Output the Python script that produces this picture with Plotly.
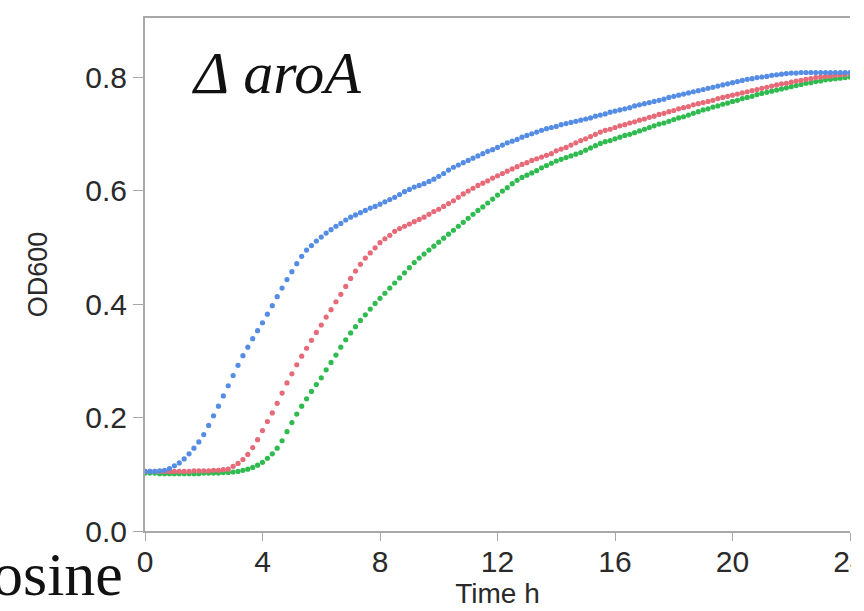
import plotly.graph_objects as go

# Time axis: readings every 10 minutes from 0 h to 24 h (145 samples)
time_h = [i / 6 for i in range(145)]

# OD600 readings, one row per hour, 6 readings/hour
od_blue = [
    0.105, 0.105, 0.105, 0.106, 0.107, 0.110,
    0.115, 0.120, 0.127, 0.136, 0.146, 0.157,
    0.170, 0.186, 0.203, 0.220, 0.238, 0.256,
    0.274, 0.292, 0.309, 0.324, 0.339, 0.353,
    0.367, 0.382, 0.397, 0.413, 0.428, 0.443,
    0.457, 0.471, 0.484, 0.495, 0.503, 0.511,
    0.518, 0.525, 0.531, 0.537, 0.542, 0.548,
    0.553, 0.557, 0.561, 0.565, 0.569, 0.572,
    0.576, 0.580, 0.584, 0.588, 0.593, 0.598,
    0.602, 0.606, 0.609, 0.612, 0.616, 0.620,
    0.625, 0.630, 0.636, 0.641, 0.645, 0.649,
    0.653, 0.657, 0.661, 0.665, 0.669, 0.672,
    0.676, 0.680, 0.684, 0.687, 0.690, 0.694,
    0.697, 0.700, 0.703, 0.706, 0.709, 0.711,
    0.713, 0.716, 0.718, 0.720, 0.722, 0.724,
    0.726, 0.728, 0.731, 0.733, 0.735, 0.738,
    0.740, 0.742, 0.744, 0.746, 0.749, 0.751,
    0.753, 0.755, 0.757, 0.759, 0.761, 0.764,
    0.766, 0.768, 0.770, 0.772, 0.774, 0.776,
    0.778, 0.780, 0.782, 0.784, 0.786, 0.788,
    0.790, 0.792, 0.794, 0.796, 0.797, 0.799,
    0.800, 0.801, 0.803, 0.804, 0.805, 0.806,
    0.807, 0.807, 0.808, 0.808, 0.808, 0.808,
    0.808, 0.808, 0.808, 0.808, 0.808, 0.808,
    0.808,
]

od_red = [
    0.105, 0.105, 0.105, 0.105, 0.105, 0.105,
    0.105, 0.105, 0.105, 0.105, 0.106, 0.106,
    0.106, 0.106, 0.107, 0.107, 0.108, 0.109,
    0.114, 0.119, 0.126, 0.135, 0.147, 0.161,
    0.177, 0.193, 0.208, 0.225, 0.243, 0.261,
    0.277, 0.293, 0.308, 0.322, 0.336, 0.350,
    0.363, 0.377, 0.390, 0.404, 0.417, 0.431,
    0.445, 0.458, 0.470, 0.481, 0.490, 0.499,
    0.508, 0.515, 0.521, 0.528, 0.533, 0.537,
    0.541, 0.545, 0.549, 0.553, 0.558, 0.563,
    0.567, 0.572, 0.577, 0.582, 0.588, 0.594,
    0.599, 0.604, 0.609, 0.613, 0.617, 0.622,
    0.626, 0.630, 0.634, 0.638, 0.642, 0.646,
    0.649, 0.653, 0.656, 0.659, 0.662, 0.665,
    0.670, 0.673, 0.676, 0.680, 0.684, 0.688,
    0.691, 0.695, 0.699, 0.703, 0.706, 0.708,
    0.711, 0.714, 0.716, 0.719, 0.721, 0.724,
    0.726, 0.729, 0.731, 0.734, 0.736, 0.739,
    0.741, 0.744, 0.746, 0.748, 0.751, 0.753,
    0.755, 0.757, 0.759, 0.762, 0.764, 0.766,
    0.768, 0.770, 0.772, 0.774, 0.776, 0.778,
    0.780, 0.782, 0.784, 0.786, 0.788, 0.789,
    0.791, 0.793, 0.794, 0.796, 0.797, 0.799,
    0.800, 0.801, 0.802, 0.803, 0.804, 0.805,
    0.806,
]

od_green = [
    0.102, 0.102, 0.102, 0.101, 0.101, 0.101,
    0.101, 0.101, 0.101, 0.101, 0.101, 0.101,
    0.102, 0.102, 0.102, 0.102, 0.103, 0.103,
    0.104, 0.105, 0.107, 0.109, 0.112, 0.116,
    0.121, 0.128, 0.136, 0.146, 0.159, 0.175,
    0.191, 0.206, 0.220, 0.233, 0.246, 0.258,
    0.270, 0.284, 0.297, 0.310, 0.324, 0.337,
    0.349, 0.360, 0.371, 0.381, 0.391, 0.401,
    0.410, 0.419, 0.428, 0.437, 0.446, 0.455,
    0.464, 0.473, 0.481, 0.488, 0.495, 0.502,
    0.509, 0.516, 0.523, 0.530, 0.537, 0.544,
    0.551, 0.558, 0.565, 0.571, 0.578, 0.585,
    0.592, 0.599, 0.605, 0.612, 0.618, 0.623,
    0.627, 0.631, 0.635, 0.640, 0.644, 0.648,
    0.652, 0.655, 0.658, 0.661, 0.664, 0.667,
    0.671, 0.675, 0.679, 0.683, 0.686, 0.688,
    0.691, 0.694, 0.697, 0.699, 0.702, 0.705,
    0.708, 0.711, 0.714, 0.717, 0.719, 0.722,
    0.725, 0.728, 0.730, 0.733, 0.736, 0.739,
    0.742, 0.744, 0.747, 0.749, 0.752, 0.754,
    0.757, 0.759, 0.762, 0.764, 0.766, 0.769,
    0.771, 0.773, 0.775, 0.777, 0.779, 0.781,
    0.783, 0.785, 0.787, 0.789, 0.790, 0.792,
    0.793, 0.795, 0.796, 0.797, 0.798, 0.799,
    0.800,
]

x_ticks = [0, 4, 8, 12, 16, 20, 24]
y_ticks = [0.0, 0.2, 0.4, 0.6, 0.8]

series = [
    ("green", od_green, "#30bb50"),
    ("red", od_red, "#e66a78"),
    ("blue", od_blue, "#558de4"),
]

fig = go.Figure()
for name, vals, col in series:
    fig.add_trace(go.Scatter(
        x=time_h, y=vals, mode="markers", name=name,
        marker=dict(size=5.2, color=col, line=dict(width=0)),
        showlegend=False,
    ))

W, H = 864, 611
L, R, T, B = 145, 14, 18, 80
pw, ph = W - L - R, H - T - B


def px(xp):
    return (xp - L) / pw


def py(yp):
    return (H - B - yp) / ph


FONT = "Liberation Sans, Arial, sans-serif"
tick_font = dict(family=FONT, size=30, color="#2a2a2a")

fig.update_layout(
    width=W, height=H,
    margin=dict(l=L, r=R, t=T, b=B, pad=0),
    paper_bgcolor="white", plot_bgcolor="white",
    xaxis=dict(
        range=[0, 24], tickvals=x_ticks, ticktext=[str(v) for v in x_ticks],
        automargin=False, ticklabeloverflow="allow",
        ticklabelstandoff=-5,
        showgrid=False, zeroline=False,
        showline=True, linecolor="#a8a8a8", linewidth=2, mirror=True,
        ticks="outside", ticklen=8, tickcolor="#a8a8a8", tickwidth=1,
        tickfont=tick_font,
        title=dict(text="Time h", font=dict(family=FONT, size=28, color="#2a2a2a"), standoff=3),
    ),
    yaxis=dict(
        range=[0, 0.904], tickvals=y_ticks, tickformat=".1f",
        automargin=False,
        showgrid=False, zeroline=False,
        showline=True, linecolor="#a8a8a8", linewidth=2,
        ticks="outside", ticklen=10, tickcolor="#a8a8a8", tickwidth=1,
        tickfont=tick_font,
        title=dict(text="OD600", font=dict(family=FONT, size=27, color="#2a2a2a"), standoff=30),
    ),
    annotations=[
        dict(text="<i>Δ aroA</i>", xref="paper", yref="paper",
             x=px(190), y=py(73), xanchor="left", yanchor="middle",
             showarrow=False,
             font=dict(family="Liberation Serif, Times New Roman, serif", size=60, color="#111111")),
        dict(text="osine", xref="paper", yref="paper",
             x=px(125), y=py(574), xanchor="right", yanchor="middle",
             showarrow=False,
             font=dict(family="Liberation Serif, Times New Roman, serif", size=62, color="#111111")),
    ],
    shapes=[
        dict(type="rect", xref="paper", yref="paper", layer="above",
             x0=1.0015, x1=1.05, y0=-0.3, y1=1.1,
             fillcolor="white", line=dict(width=0)),
    ],
)

fig.write_html(
    "out.html",
    config={"displayModeBar": False},
    post_script="document.body.style.margin='0';document.body.style.overflow='hidden';",
)
